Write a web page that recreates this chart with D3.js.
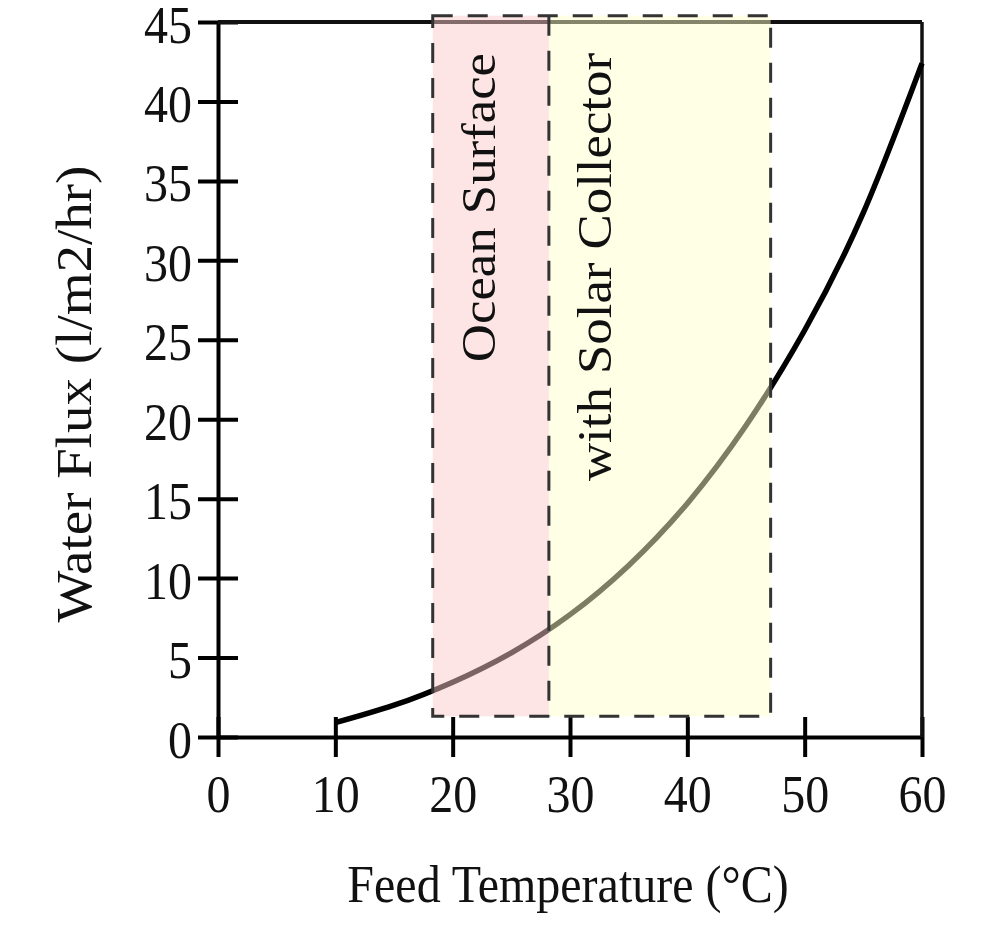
<!DOCTYPE html>
<html>
<head>
<meta charset="utf-8">
<script src="https://cdn.jsdelivr.net/npm/d3@7"></script>
<style>
  body { margin: 0; background: #fff; }
  svg text { font-family: "Liberation Serif", "Times New Roman", serif; fill: #111; }
</style>
</head>
<body>
<div id="chart"></div>
<script>
// curve: feed temperature (C) vs water flux
const temps = [10, 15, 20, 25, 30, 35, 40, 45, 50, 55, 60];
const flux = [0.9, 2.0, 3.45, 5.3, 7.7, 10.8, 14.7, 19.6, 25.6, 33.0, 42.4];

// shaded ranges
const zoneNames = ["Ocean Surface", "with Solar Collector"];
const zoneStart = [18.3, 28.2];
const zoneEnd = [28.2, 47.1];
const zoneFloor = 1.3, zoneTop = 45.4;

const xTicks = [0, 10, 20, 30, 40, 50, 60];
const yTicks = [0, 5, 10, 15, 20, 25, 30, 35, 40, 45];

const width = 982, height = 925;
const stretch = 1.1; // text in the picture is a bit taller than wide

const svg = d3.select("#chart")
    .append("svg")
    .attr("width", width)
    .attr("height", height);

const x = d3.scaleLinear().domain([0, 60]).range([218, 922]);
const y = d3.scaleLinear().domain([0, 45]).range([737, 22]);

// y axis, ticks cross the line
const yAxis = svg.append("g")
    .attr("transform", `translate(${x(0)},0)`)
    .call(d3.axisLeft(y).tickValues(yTicks).tickSize(20).tickSizeOuter(0));
yAxis.select(".domain").attr("stroke", "#000").attr("stroke-width", 4);
yAxis.selectAll(".tick line").attr("x1", -20).attr("x2", 20)
    .attr("stroke", "#000").attr("stroke-width", 4);
yAxis.selectAll(".tick text")
    .attr("x", -26).attr("dy", "0.38em")
    .attr("transform", `scale(1,${stretch})`)
    .style("font-size", "48px").style("font-family", "Liberation Serif").attr("fill", "#111");

// x axis
const xAxis = svg.append("g")
    .attr("transform", `translate(0,${y(0)})`)
    .call(d3.axisBottom(x).tickValues(xTicks).tickSize(20).tickSizeOuter(0));
xAxis.select(".domain").attr("stroke", "#000").attr("stroke-width", 4);
xAxis.selectAll(".tick line").attr("y1", -20).attr("y2", 20)
    .attr("stroke", "#000").attr("stroke-width", 4);
xAxis.selectAll(".tick text")
    .attr("y", 68).attr("dy", 0)
    .attr("transform", `scale(1,${stretch})`)
    .style("font-size", "48px").style("font-family", "Liberation Serif").attr("fill", "#111");

// frame top and right
svg.append("line")
    .attr("x1", x(0)).attr("x2", x(60))
    .attr("y1", y(45)).attr("y2", y(45))
    .attr("stroke", "#111").attr("stroke-width", 4);
svg.append("line")
    .attr("x1", x(60)).attr("x2", x(60))
    .attr("y1", y(45)).attr("y2", y(0))
    .attr("stroke", "#111").attr("stroke-width", 3.5);

// flux curve
const line = d3.line()
    .x((d, i) => x(temps[i]))
    .y(d => y(d))
    .curve(d3.curveNatural);

svg.append("path")
    .datum(flux)
    .attr("d", line)
    .attr("fill", "none")
    .attr("stroke", "#000")
    .attr("stroke-width", 5.5);

// translucent zones over the curve
const zoneColor = d3.scaleOrdinal().domain(zoneNames).range(["rgb(251,202,202)", "rgb(255,255,205)"]);

svg.selectAll("rect.zone")
    .data(zoneNames)
    .enter()
    .append("rect")
    .attr("class", "zone")
    .attr("x", (d, i) => x(zoneStart[i]))
    .attr("width", (d, i) => x(zoneEnd[i]) - x(zoneStart[i]))
    .attr("y", y(zoneTop))
    .attr("height", y(zoneFloor) - y(zoneTop))
    .attr("fill", d => zoneColor(d))
    .attr("fill-opacity", 0.49);

// dashed outline: outer box plus dividers
const dash = { stroke: "#333", width: 3, array: "20,15" };
svg.append("rect")
    .attr("x", x(zoneStart[0]))
    .attr("width", x(zoneEnd[zoneEnd.length - 1]) - x(zoneStart[0]))
    .attr("y", y(zoneTop))
    .attr("height", y(zoneFloor) - y(zoneTop))
    .attr("fill", "none")
    .attr("stroke", dash.stroke)
    .attr("stroke-width", dash.width)
    .attr("stroke-dasharray", dash.array);

svg.selectAll("line.divider")
    .data(zoneStart.slice(1))
    .enter()
    .append("line")
    .attr("class", "divider")
    .attr("x1", d => x(d)).attr("x2", d => x(d))
    .attr("y1", y(zoneTop)).attr("y2", y(zoneFloor))
    .attr("stroke", dash.stroke)
    .attr("stroke-width", dash.width)
    .attr("stroke-dasharray", dash.array);

// zone labels, rotated
const labelBase = [495, 611];
svg.selectAll("text.zone")
    .data(zoneNames)
    .enter()
    .append("text")
    .attr("class", "zone")
    .attr("transform", (d, i) => `translate(${labelBase[i]},53) scale(1,${stretch}) rotate(-90)`)
    .attr("text-anchor", "end")
    .style("font-size", "48px")
    .text(d => d);

// axis titles
svg.append("text")
    .attr("transform", `translate(568,902) scale(1,${stretch})`)
    .attr("text-anchor", "middle")
    .style("font-size", "48px")
    .text("Feed Temperature (°C)");

svg.append("text")
    .attr("transform", `translate(91,394) scale(1,${stretch}) rotate(-90)`)
    .attr("text-anchor", "middle")
    .style("font-size", "50px")
    .text("Water Flux (l/m2/hr)");
</script>
</body>
</html>
